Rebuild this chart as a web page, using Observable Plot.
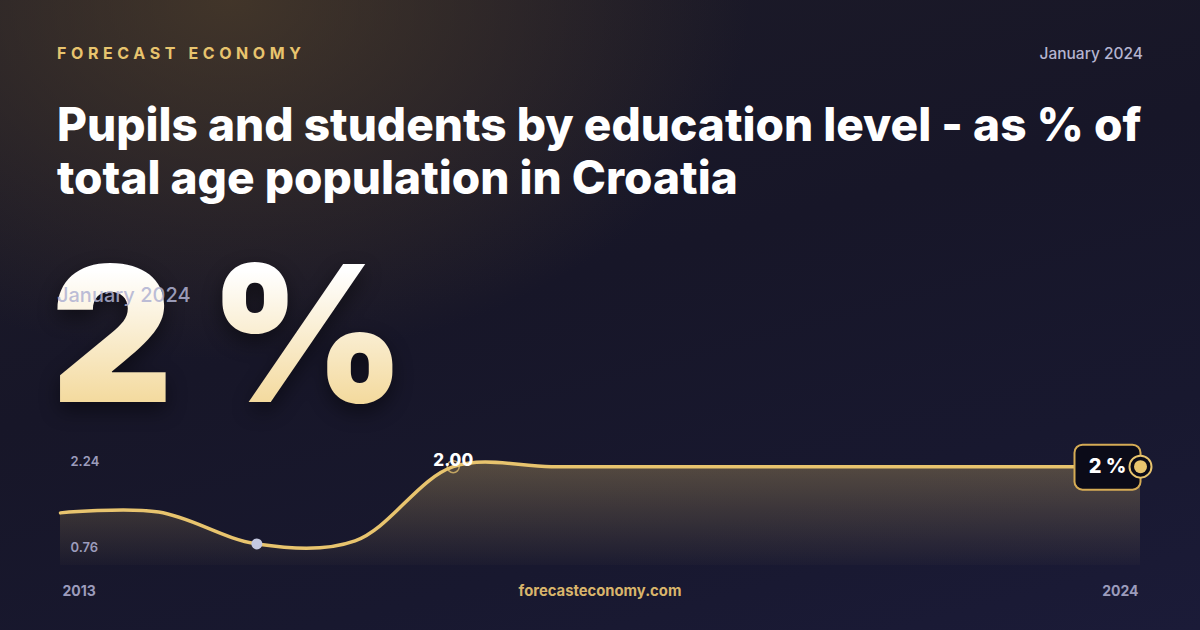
<!DOCTYPE html>
<html>
<head>
<meta charset="utf-8">
<script src="https://cdn.jsdelivr.net/npm/d3@7"></script>
<script src="https://cdn.jsdelivr.net/npm/@observablehq/plot@0.6"></script>
<style>
  html, body { margin: 0; padding: 0; }
  body {
    width: 1200px; height: 630px; overflow: hidden; position: relative;
    font-family: Inter, "Noto Sans", sans-serif;
    background:
      radial-gradient(ellipse 520px 360px at 230px 0px, rgba(78,62,42,0.75), rgba(78,62,42,0) 100%),
      linear-gradient(165deg, #1d1b27 0%, #171628 45%, #18182f 75%, #1b1b38 100%);
  }
  .brand { position: absolute; left: 57px; top: 43px; font-size: 16px; font-weight: 700; letter-spacing: 4.6px; color: #e8c46e; }
  .date { position: absolute; right: 57px; top: 44px; font-size: 15.5px; font-weight: 500; color: #b4b4d0; }
  .title { position: absolute; left: 57px; top: 98px; width: 1120px; font-size: 46px; line-height: 53px; font-weight: 800; letter-spacing: 0px; color: #ffffff; }
  .big { position: absolute; left: 51px; top: 221px; font-size: 189px; line-height: 226px; font-weight: 900; letter-spacing: -1px;
    background: linear-gradient(to bottom, #ffffff 22%, #f2d591 88%); -webkit-background-clip: text; background-clip: text; color: transparent;
    filter: drop-shadow(0 8px 10px rgba(0,0,0,0.45)); }
  .bigdate { position: absolute; left: 57px; top: 283px; font-size: 20px; font-weight: 500; color: rgba(176,178,210,0.85); }
  .footer { position: absolute; left: 0; width: 1200px; top: 582px; text-align: center; font-size: 14.8px; font-weight: 700; color: #d9b56b; }
  #chart { position: absolute; left: 0; top: 430px; }
</style>
</head>
<body>
<div class="brand">FORECAST ECONOMY</div>
<div class="date">January 2024</div>
<div class="title">Pupils and students by education level - as % of total age population in Croatia</div>
<div class="big">2 %</div>
<div class="bigdate">January 2024</div>
<div class="footer">forecasteconomy.com</div>
<div id="chart"></div>
<script>
const years = [2013, 2014, 2015, 2016, 2017, 2018, 2019, 2020, 2021, 2022, 2023, 2024];
const values = [1.42, 1.43, 1.03, 1.07, 2.00, 2.00, 2.00, 2.00, 2.00, 2.00, 2.00, 2.00];
const yDomain = [0.76, 2.24];
const yTopLabel = [2.24];
const yBottomLabel = [0.76];
const xStartLabel = [2013];
const xEndLabel = [2024];
const minYear = 2015;
const markYear = 2017;
const lastYear = 2024;
const lastLabel = "2 %";

const data = years.map((year, i) => ({year, value: values[i]}));
const minPoint = data.filter(d => d.year === minYear);
const markPoint = data.filter(d => d.year === markYear);
const lastPoint = data.filter(d => d.year === lastYear);

const gold = "#e8c46e";
const muted = "#9c9cbc";

const defs = () => {
  const g = d3.create("svg:defs");
  const lg = g.append("linearGradient").attr("id", "areaGrad").attr("x1", 0).attr("y1", 0).attr("x2", 0).attr("y2", 1);
  lg.append("stop").attr("offset", "0%").attr("stop-color", gold).attr("stop-opacity", 0.3);
  lg.append("stop").attr("offset", "100%").attr("stop-color", gold).attr("stop-opacity", 0.02);
  return g.node();
};

const chart = Plot.plot({
  width: 1200,
  height: 180,
  marginLeft: 60,
  marginRight: 60,
  marginTop: 17,
  marginBottom: 45,
  x: {domain: [2013, 2024], axis: null},
  y: {domain: yDomain, axis: null},
  style: {background: "transparent", overflow: "visible", fontFamily: "Inter, sans-serif"},
  marks: [
    defs,
    Plot.areaY(data, {x: "year", y1: yDomain[0], y2: "value", curve: "catmull-rom", fill: "url(#areaGrad)"}),
    Plot.lineY(data, {x: "year", y: "value", curve: "catmull-rom", stroke: gold, strokeWidth: 3.5}),
    Plot.text(yTopLabel, {x: years[0], y: d => d, dx: 10, dy: 14, textAnchor: "start", text: d => d.toFixed(2),
      fill: muted, fontSize: 13, fontWeight: 600}),
    Plot.text(yBottomLabel, {x: years[0], y: d => d, dx: 10, dy: -18, textAnchor: "start", text: d => d.toFixed(2),
      fill: muted, fontSize: 13, fontWeight: 600}),
    Plot.text(xStartLabel, {x: d => d, y: yDomain[0], dx: 2, dy: 26, text: d => String(d),
      textAnchor: "start", fill: muted, fontSize: 14, fontWeight: 700}),
    Plot.text(xEndLabel, {x: d => d, y: yDomain[0], dx: -2, dy: 26, text: d => String(d),
      textAnchor: "end", fill: muted, fontSize: 14, fontWeight: 700}),
    Plot.dot(minPoint, {x: "year", y: "value", r: 5.5, fill: "#c4c8e0"}),
    Plot.dot(markPoint, {x: "year", y: "value", r: 6, stroke: gold, strokeWidth: 1.5, strokeOpacity: 0.75, fill: "none"}),
    Plot.text(markPoint, {x: "year", y: "value", dy: -6, text: d => d.value.toFixed(2), fill: "#ffffff", fontSize: 17, fontWeight: 800}),
    Plot.text(lastPoint, {x: "year", y: "value", dx: -33, text: () => lastLabel, fill: "#ffffff", fontSize: 20, fontWeight: 800,
      render(index, scales, values, dims, ctx, next) {
        const g = next(index, scales, values, dims, ctx);
        const x = values.x[index[0]], y = values.y[index[0]];
        d3.select(g).insert("rect", ":first-child")
          .attr("x", x - 33).attr("y", y - 22).attr("width", 66).attr("height", 45)
          .attr("rx", 8).attr("fill", "#0b0b18").attr("stroke", "#d6ac55").attr("stroke-width", 2);
        return g;
      }}),
    Plot.dot(lastPoint, {x: "year", y: "value", r: 11, stroke: gold, strokeWidth: 2, fill: "#0b0b18"}),
    Plot.dot(lastPoint, {x: "year", y: "value", r: 6.5, fill: gold})
  ]
});
document.getElementById("chart").appendChild(chart);
</script>
</body>
</html>
